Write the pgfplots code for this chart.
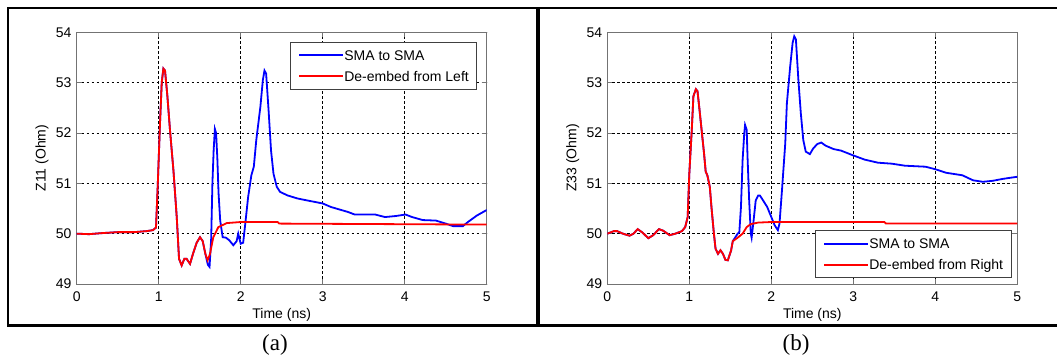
\documentclass[border=0pt]{standalone}
\usepackage{pgfplots}
\pgfplotsset{compat=1.18}
\usepackage{fontspec}
\setmainfont{Liberation Sans}
\newfontfamily\capfont{Liberation Serif}
\definecolor{mblue}{RGB}{0,0,255}
\definecolor{mred}{RGB}{255,0,0}
\newcommand{\fs}{\fontsize{14bp}{16bp}\selectfont}
\pgfplotsset{
  mstyle/.style={
    scale only axis, width=410bp, height=251.7bp,
    xmin=0,xmax=5,ymin=49,ymax=54,
    xtick={0,1,2,3,4,5}, ytick={49,50,51,52,53,54},
    grid=major,
    major grid style={black, line width=0.7bp, dash pattern=on 2.5bp off 2.5bp},
    axis line style={draw=black!55, line width=0.9bp},
    tick style={draw=black!55, line width=0.9bp},
    tick align=inside, major tick length=5bp,
    xtick pos=both, ytick pos=both,
    /pgf/number format/assume math mode=true,
    tick label style={font=\fs},
    xticklabel style={anchor=north, inner sep=0pt, yshift=-7.7bp},
    yticklabel style={anchor=east, inner sep=0pt, xshift=-5bp},
    label style={font=\fs},
    xlabel={Time (ns)},
    xlabel style={at={(axis description cs:0.5,-0.139)}, anchor=base, inner sep=0pt},
    ylabel style={at={(axis description cs:-0.0756,0.5)}, anchor=base, inner sep=0pt},
    legend cell align=left,
    legend image code/.code={\draw[#1, line width=2bp, line cap=butt] (0bp,0bp) -- (44bp,0bp);},
    legend style={font=\fs, draw=black!75, line width=0.9bp, fill=white,
      inner xsep=8bp, inner ysep=8bp, row sep=11bp,
      nodes={inner sep=0pt, text height=10bp, text depth=0bp},
      /tikz/column 2/.style={column sep=5bp}},
    every axis plot/.append style={line width=1.8bp},
  }
}
\begin{document}
\begin{tikzpicture}
\path[use as bounding box] (0,0) rectangle (1057bp,355bp);
% panel (a)
\begin{axis}[mstyle, at={(76.7bp,71bp)}, anchor=south west,
  ylabel={Z11 (Ohm)},
  legend style={at={(axis description cs:0.977,0.9615)}, anchor=north east}]
\addplot[mblue] coordinates {
(0,50.00)(0.15,49.99)(0.3,50.01)(0.5,50.03)(0.7,50.03)(0.85,50.05)(0.93,50.07)(0.967,50.12)(0.987,50.9)(1.016,52.2)(1.037,53.0)(1.057,53.28)(1.077,53.24)(1.105,52.75)(1.138,52.05)(1.18,51.25)(1.22,50.33)(1.248,49.5)(1.28,49.37)(1.313,49.5)(1.34,49.5)(1.382,49.4)(1.422,49.62)(1.463,49.82)(1.504,49.93)(1.537,49.85)(1.569,49.6)
(1.60,49.38)(1.62,49.34)(1.64,49.9)(1.655,51.0)(1.67,51.65)(1.685,52.08)(1.70,52.0)(1.715,51.5)(1.73,50.8)(1.75,50.26)(1.78,49.93)(1.82,49.92)(1.86,49.87)(1.91,49.77)(1.95,49.85)(1.97,50.0)(2.0,49.8)(2.03,49.82)(2.06,50.26)(2.09,50.72)(2.13,51.16)(2.16,51.33)(2.19,51.86)(2.24,52.52)(2.27,53.05)(2.29,53.24)(2.31,53.18)(2.34,52.45)(2.37,51.65)(2.40,51.19)(2.44,50.93)(2.48,50.83)(2.57,50.76)(2.69,50.7)(2.81,50.66)(3.0,50.6)(3.10,50.53)(3.31,50.43)(3.39,50.38)(3.64,50.38)(3.76,50.33)(3.89,50.35)(4.01,50.38)(4.09,50.33)(4.22,50.27)(4.38,50.26)(4.5,50.2)(4.59,50.15)(4.71,50.15)(4.77,50.23)(4.88,50.36)(5.0,50.47)
};
\addlegendentry{SMA to SMA}
\addplot[mred] coordinates {
(0,50.00)(0.15,49.99)(0.3,50.01)(0.5,50.03)(0.7,50.03)(0.85,50.05)(0.93,50.07)(0.967,50.12)(0.987,50.9)(1.016,52.2)(1.037,53.0)(1.057,53.28)(1.077,53.24)(1.105,52.75)(1.138,52.05)(1.18,51.25)(1.22,50.33)(1.248,49.5)(1.28,49.37)(1.313,49.5)(1.34,49.5)(1.382,49.4)(1.422,49.62)(1.463,49.82)(1.504,49.93)(1.537,49.85)(1.569,49.6)(1.597,49.47)(1.626,49.6)(1.666,49.93)(1.727,50.13)(1.83,50.21)(1.99,50.23)(2.45,50.23)(2.47,50.2)(5,50.18)
};
\addlegendentry{De-embed from Left}
\end{axis}
% panel (b)
\begin{axis}[mstyle, at={(607.3bp,71bp)}, anchor=south west,
  ylabel={Z33 (Ohm)},
  legend style={at={(axis description cs:0.986,0.0238)}, anchor=south east}]
\addplot[mblue] coordinates {
(0,50.0)(0.08,50.05)(0.12,50.05)(0.19,50.0)(0.27,49.96)(0.32,50.0)(0.37,50.09)(0.43,50.02)(0.50,49.91)(0.56,49.97)(0.63,50.09)(0.68,50.06)(0.76,49.97)(0.83,50.0)(0.91,50.05)(0.95,50.13)(0.98,50.33)(1.0,51.19)(1.03,52.06)(1.05,52.73)(1.08,52.87)(1.10,52.83)(1.12,52.53)(1.15,52.06)(1.18,51.59)(1.20,51.23)(1.22,51.16)(1.25,50.93)(1.27,50.53)(1.30,50.0)(1.32,49.7)(1.35,49.6)(1.38,49.67)(1.41,49.6)(1.44,49.48)(1.47,49.47)(1.51,49.67)(1.53,49.85)
(1.59,50.0)(1.61,50.03)(1.63,50.53)(1.65,51.46)(1.67,51.99)(1.68,52.16)(1.70,52.06)(1.71,51.53)(1.73,50.66)(1.75,50.0)(1.76,49.92)(1.78,50.2)(1.81,50.66)(1.84,50.76)(1.86,50.76)(1.90,50.66)(1.95,50.53)(2.0,50.33)(2.04,50.17)(2.08,50.07)(2.10,50.2)(2.13,50.86)(2.17,51.79)(2.19,52.59)(2.23,53.32)(2.26,53.79)(2.28,53.92)(2.30,53.86)(2.33,53.06)(2.36,52.39)(2.39,51.86)(2.42,51.63)(2.47,51.58)(2.51,51.69)(2.56,51.78)(2.61,51.81)(2.66,51.75)(2.76,51.68)(2.85,51.65)(2.99,51.56)(3.14,51.47)(3.30,51.41)(3.47,51.39)(3.63,51.35)(3.88,51.33)(4.0,51.28)(4.13,51.21)(4.33,51.16)(4.46,51.06)(4.58,51.03)(4.7,51.05)(4.83,51.09)(5.0,51.13)
};
\addlegendentry{SMA to SMA}
\addplot[mred] coordinates {
(0,50.0)(0.08,50.05)(0.12,50.05)(0.19,50.0)(0.27,49.96)(0.32,50.0)(0.37,50.09)(0.43,50.02)(0.50,49.91)(0.56,49.97)(0.63,50.09)(0.68,50.06)(0.76,49.97)(0.83,50.0)(0.91,50.05)(0.95,50.13)(0.98,50.33)(1.0,51.19)(1.03,52.06)(1.05,52.73)(1.08,52.87)(1.10,52.83)(1.12,52.53)(1.15,52.06)(1.18,51.59)(1.20,51.23)(1.22,51.16)(1.25,50.93)(1.27,50.53)(1.30,50.0)(1.32,49.7)(1.35,49.6)(1.38,49.67)(1.41,49.6)(1.44,49.48)(1.47,49.47)(1.51,49.67)(1.53,49.85)(1.59,49.92)(1.65,50.0)(1.70,50.13)(1.75,50.19)(1.84,50.22)(1.98,50.23)(3.38,50.23)(3.40,50.2)(5,50.2)
};
\addlegendentry{De-embed from Right}
\end{axis}
% frames
\draw[line width=2.2bp] (1060bp,346.7bp) -- (8.3bp,346.7bp) -- (8.3bp,29.5bp) -- (1060bp,29.5bp);
\draw[line width=4bp] (538bp,346.7bp) -- (538bp,29.5bp);
% captions
\node[anchor=base, inner sep=0pt, font=\capfont\fontsize{23bp}{26bp}\selectfont] at (275bp,5bp) {(a)};
\node[anchor=base, inner sep=0pt, font=\capfont\fontsize{23bp}{26bp}\selectfont] at (796bp,5bp) {(b)};
\end{tikzpicture}
\end{document}
